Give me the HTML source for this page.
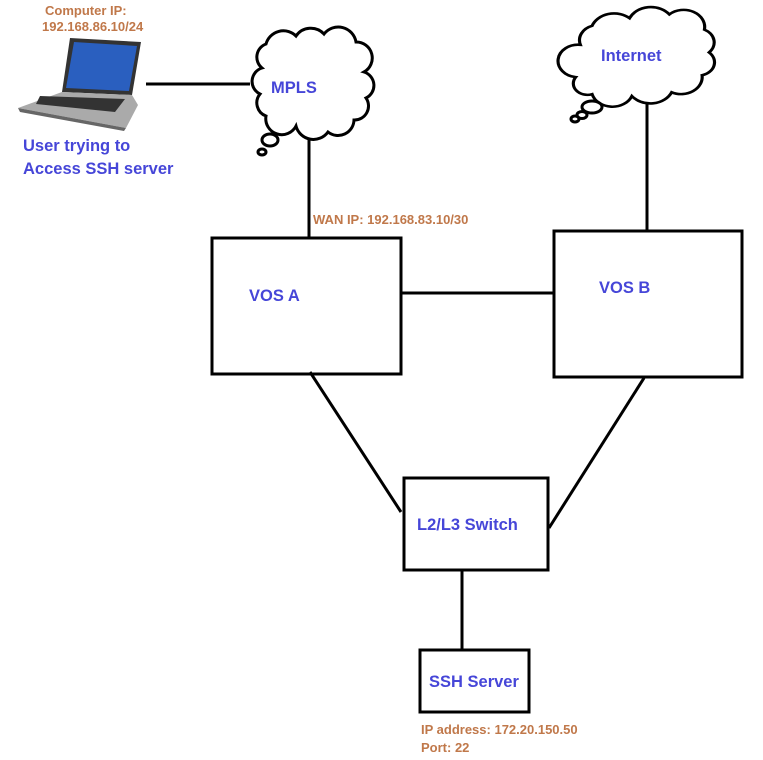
<!DOCTYPE html>
<html><head><style>
html,body{margin:0;padding:0;background:#fff;}
svg{display:block;}
text{font-family:"Liberation Sans",sans-serif;font-weight:bold;}
.b{fill:#4646d8;font-size:16.5px;}
.o{fill:#c0784a;font-size:13px;}
</style></head><body>
<svg width="763" height="760" viewBox="0 0 763 760" xmlns="http://www.w3.org/2000/svg">
<g stroke="#000" stroke-width="3" fill="none">
<line x1="146" y1="84" x2="250" y2="84"/>
<line x1="309" y1="138" x2="309" y2="238"/>
<rect x="212" y="238" width="189" height="136"/>
<rect x="554" y="231" width="188" height="146"/>
<line x1="401" y1="293" x2="554" y2="293"/>
<line x1="647" y1="102" x2="647" y2="231"/>
<line x1="310" y1="372" x2="401" y2="512"/>
<line x1="644" y1="378" x2="549" y2="528"/>
<rect x="404" y="478" width="144" height="92"/>
<line x1="462" y1="570" x2="462" y2="650"/>
<rect x="420" y="650" width="109" height="62"/>
<!-- MPLS cloud -->
<path d="M262,68 a14,14 0 0 1 4,-24 a18,18 0 0 1 30,-8 a18,18 0 0 1 28,-2 a18,18 0 0 1 32,8 a16,16 0 0 1 8,30 a14,14 0 0 1 2,26 a14,14 0 0 1 -12,22 a16,16 0 0 1 -26,12 a18,18 0 0 1 -32,-6 a16,16 0 0 1 -30,-10 a14,14 0 0 1 -6,-22 a14,14 0 0 1 2,-26 z" fill="#fff"/>
<ellipse cx="270" cy="140" rx="8" ry="6"/>
<ellipse cx="262" cy="152" rx="4" ry="3"/>
<!-- Internet cloud -->
<g transform="translate(557,3) scale(1.17,0.95) translate(-555,0)">
<path d="M575,44 a16,16 0 0 1 10,-20 a20,20 0 0 1 32,-8 a20,20 0 0 1 34,-4 a18,18 0 0 1 30,16 a15,15 0 0 1 4,24 a14,14 0 0 1 -6,24 a18,18 0 0 1 -26,18 a20,20 0 0 1 -34,4 a18,18 0 0 1 -34,-2 a12,12 0 0 1 -14,-18 a14,14 0 0 1 4,-34 z" fill="#fff" stroke-width="2.7"/>
</g>
<ellipse cx="592" cy="107" rx="10" ry="6"/>
<ellipse cx="582" cy="115" rx="5" ry="3.5"/>
<ellipse cx="575" cy="119" rx="4" ry="3"/>
</g>
<!-- laptop -->
<polygon points="70,38 141,42 132,95 62,92" fill="#333"/>
<polygon points="74,42 137,46 129,91 66,88" fill="#2a5fbf"/>
<polygon points="62,92 132,95 138,105 126,128 18,108" fill="#aaa"/>
<polygon points="40,96 125,99 115,112 36,104" fill="#333"/>
<polygon points="18,108 126,128 124,131 20,112" fill="#666"/>
<text class="o" x="45" y="15">Computer IP:</text>
<text class="o" x="42" y="31">192.168.86.10/24</text>
<text class="b" x="23" y="151">User trying to</text>
<text class="b" x="23" y="174">Access SSH server</text>
<text class="b" x="271" y="93">MPLS</text>
<text class="b" x="601" y="61">Internet</text>
<text class="o" x="313" y="224">WAN IP: 192.168.83.10/30</text>
<text class="b" x="249" y="301">VOS A</text>
<text class="b" x="599" y="293">VOS B</text>
<text class="b" x="417" y="530">L2/L3 Switch</text>
<text class="b" x="429" y="687">SSH Server</text>
<text class="o" x="421" y="734">IP address: 172.20.150.50</text>
<text class="o" x="421" y="752">Port: 22</text>
</svg>
</body></html>
